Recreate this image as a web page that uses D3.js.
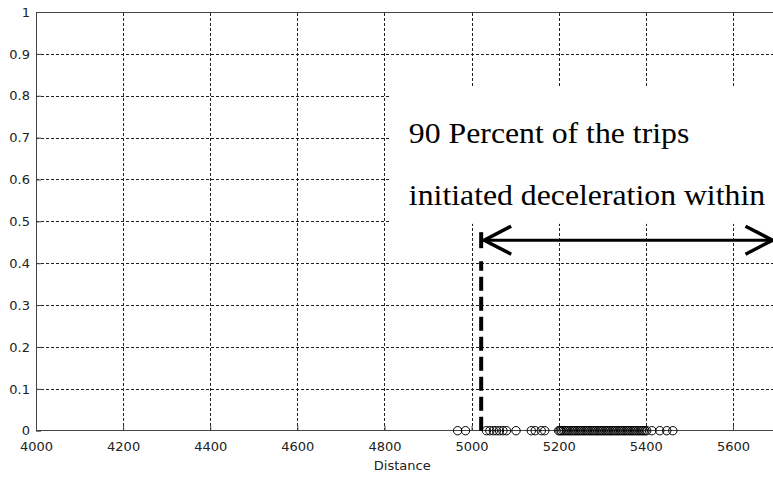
<!DOCTYPE html>
<html lang="en">
<head>
<meta charset="UTF-8">
<script src="https://d3js.org/d3.v7.min.js"></script>
<style>
  body { margin: 0; background: #fff; }
  .grid line { stroke: #222; stroke-dasharray: 3,2; stroke-width: 1px; shape-rendering: crispEdges; }
  .tick text { font-family: "DejaVu Sans", sans-serif; font-size: 13px; fill: #222; }
  .axis-line { stroke: #444; stroke-width: 1px; shape-rendering: crispEdges; fill: none; }
</style>
</head>
<body>
<script>
// axis ticks
var xTicks = [4000, 4200, 4400, 4600, 4800, 5000, 5200, 5400, 5600];
var yTicks = [0, 0.1, 0.2, 0.3, 0.4, 0.5, 0.6, 0.7, 0.8, 0.9, 1];
var yTickLabels = ["0", "0.1", "0.2", "0.3", "0.4", "0.5", "0.6", "0.7", "0.8", "0.9", "1"];

// distances where trips started decelerating (all plotted at y = 0)
var distances = [4968, 4986,
  5034, 5042, 5050, 5057, 5064, 5072, 5080, 5102,
  5137, 5146, 5160, 5168,
  5200, 5203, 5206, 5210, 5214, 5218, 5222, 5226, 5230, 5234, 5238, 5242,
  5246, 5250, 5254, 5258, 5262, 5266, 5270, 5274, 5278, 5282, 5286, 5290,
  5294, 5298, 5302, 5306, 5310, 5314, 5318, 5322, 5326, 5330, 5334, 5338,
  5342, 5346, 5350, 5354, 5358, 5362, 5366, 5370, 5374, 5378, 5382, 5386,
  5390, 5394, 5398, 5402,
  5414, 5432, 5448, 5462];

// 90th percentile marker and arrow
var cutoff = 5022;
var cutoffTop = 0.405;
var arrowY = 0.455;
var arrowEnd = 5700;
var noteLines = ["90 Percent of the trips", "initiated deceleration within"];
var noteX = 4856;
var noteY = [0.687, 0.538];
var noteBox = {x0: 4812, x1: 5700, y0: 0.494, y1: 0.819};

var margin = {top: 12, left: 36},
    W = 773, H = 477,
    width = 740.5,
    height = 418.7;

var x = d3.scaleLinear().domain([4000, 5700]).range([0, width]);
var y = d3.scaleLinear().domain([0, 1]).range([height, 0]);

var svg = d3.select("body").append("svg")
    .attr("width", W)
    .attr("height", H)
    .style("display", "block");

svg.append("rect").attr("width", W).attr("height", H).attr("fill", "#fff");

var g = svg.append("g")
    .attr("transform", "translate(" + margin.left + "," + margin.top + ")");

// gridlines
g.append("g")
    .attr("class", "grid")
    .attr("transform", "translate(0," + height + ")")
    .call(d3.axisBottom(x).tickValues(xTicks.slice(1)).tickSize(-height).tickFormat(""))
    .call(function(s) { s.select(".domain").remove(); });

g.append("g")
    .attr("class", "grid")
    .call(d3.axisLeft(y).tickValues(yTicks.slice(1, -1)).tickSize(-width).tickFormat(""))
    .call(function(s) { s.select(".domain").remove(); });

// axes with inward ticks
var xAxis = g.append("g")
    .attr("transform", "translate(0," + height + ")")
    .call(d3.axisBottom(x).tickValues(xTicks).tickSize(-5).tickPadding(9).tickFormat(d3.format("d")));
xAxis.select(".domain").remove();
xAxis.selectAll(".tick line").attr("stroke", "#444");
xAxis.selectAll(".tick text").attr("dy", "0.85em");

var yAxis = g.append("g")
    .call(d3.axisLeft(y).tickValues(yTicks).tickSize(-5).tickPadding(6)
      .tickFormat(function(d, i) { return yTickLabels[i]; }));
yAxis.select(".domain").remove();
yAxis.selectAll(".tick line").attr("stroke", "#444");

// box lines
g.append("line").attr("class", "axis-line").attr("x1", 0).attr("x2", 0).attr("y1", 0).attr("y2", height);
g.append("line").attr("class", "axis-line").attr("x1", 0).attr("x2", width).attr("y1", height).attr("y2", height);
g.append("line").attr("class", "axis-line").attr("x1", 0).attr("x2", width).attr("y1", 0).attr("y2", 0);

// axis title
g.append("text")
    .attr("x", width / 2 - 4)
    .attr("y", height + 39)
    .attr("text-anchor", "middle")
    .style("font-family", "DejaVu Sans, sans-serif")
    .style("font-size", "13px")
    .style("fill", "#222")
    .text("Distance");

// white background behind the annotation text
g.append("rect")
    .attr("x", x(noteBox.x0))
    .attr("y", y(noteBox.y1))
    .attr("width", x(noteBox.x1) - x(noteBox.x0) + 10)
    .attr("height", y(noteBox.y0) - y(noteBox.y1))
    .attr("fill", "#fff");

// thick dashed cutoff line
g.append("line")
    .attr("x1", x(cutoff)).attr("x2", x(cutoff))
    .attr("y1", y(0)).attr("y2", y(cutoffTop))
    .attr("stroke", "#000")
    .attr("stroke-width", 4)
    .attr("stroke-dasharray", "14,6");

// double-headed arrow
var ay = y(arrowY), ax0 = x(cutoff) + 3, ax1 = x(arrowEnd) - 4;
g.append("line")
    .attr("x1", x(cutoff)).attr("x2", x(cutoff))
    .attr("y1", ay - 8).attr("y2", ay + 8)
    .attr("stroke", "#000").attr("stroke-width", 4);
g.append("line")
    .attr("x1", ax0).attr("x2", ax1)
    .attr("y1", ay).attr("y2", ay)
    .attr("stroke", "#000").attr("stroke-width", 3);
g.append("path")
    .attr("d", "M" + (ax0 + 27) + "," + (ay - 14) + "L" + ax0 + "," + ay + "L" + (ax0 + 27) + "," + (ay + 14))
    .attr("fill", "none").attr("stroke", "#000").attr("stroke-width", 3.5);
g.append("path")
    .attr("d", "M" + (ax1 - 27) + "," + (ay - 14) + "L" + ax1 + "," + ay + "L" + (ax1 - 27) + "," + (ay + 14))
    .attr("fill", "none").attr("stroke", "#000").attr("stroke-width", 3.5);

// annotation text (slightly wide serif, as in the original figure)
g.selectAll("text.note")
    .data(noteLines)
    .enter().append("text")
    .attr("class", "note")
    .attr("transform", function(d, i) {
      return "translate(" + x(noteX) + "," + y(noteY[i]) + ")scale(1.077,1)";
    })
    .style("font-family", "'Liberation Serif', 'Times New Roman', serif")
    .style("font-size", "29.5px")
    .style("fill", "#000")
    .text(function(d) { return d; });

// data points
g.selectAll("circle.pt")
    .data(distances)
    .enter().append("circle")
    .attr("class", "pt")
    .attr("cx", function(d) { return x(d); })
    .attr("cy", y(0))
    .attr("r", 4.2)
    .attr("fill", "none")
    .attr("stroke", "#000")
    .attr("stroke-width", 1);
</script>
</body>
</html>
